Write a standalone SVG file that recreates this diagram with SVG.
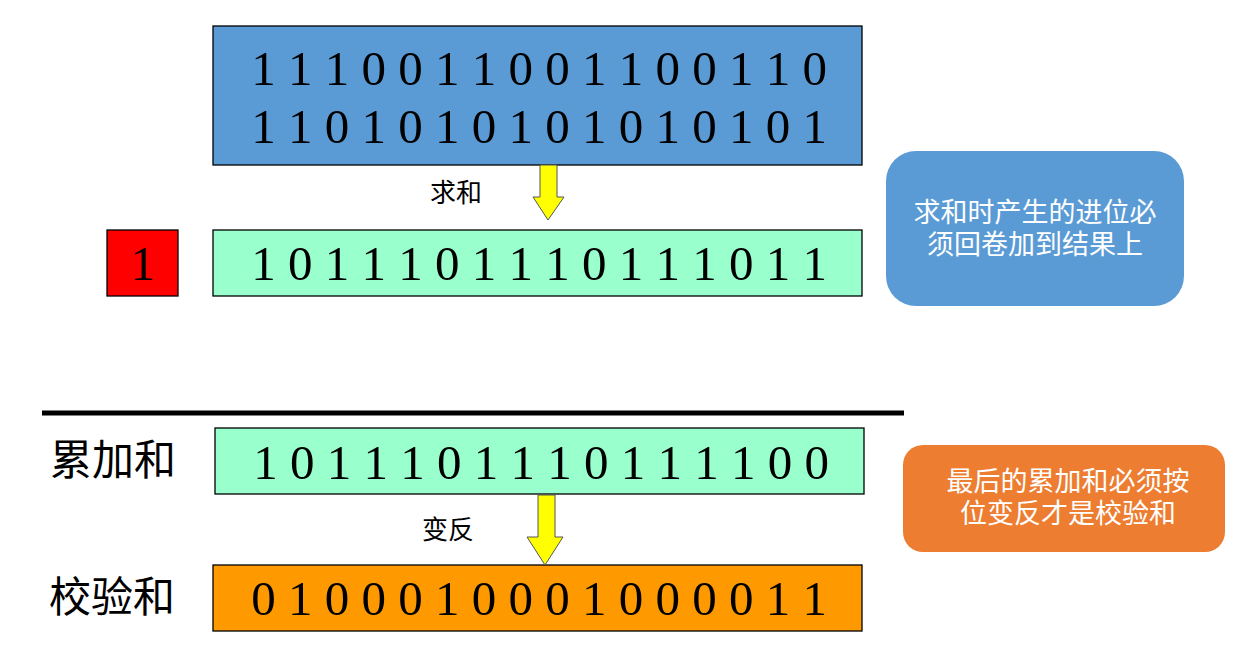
<svg xmlns="http://www.w3.org/2000/svg" width="1252" height="655" viewBox="0 0 1252 655">
<style>
.box{stroke:#000;stroke-width:1.3}
.bits{font-family:"Liberation Serif","Times New Roman",serif;font-size:49px;fill:#000;text-anchor:middle}
.lbl{font-family:"Liberation Serif","Noto Sans CJK SC",serif;fill:#000;text-anchor:middle}
.note{font-family:"Noto Sans CJK SC",sans-serif;font-size:27px;fill:#fff;text-anchor:middle}
.arrow{fill:#FFFF00;stroke:#555;stroke-width:1}
</style>
<rect width="1252" height="655" fill="#fff"/>
<g id="input">
<rect class="box" x="213" y="26" width="649" height="139" fill="#5B9BD5"/>
<text class="bits" x="539" y="85">1 1 1 0 0 1 1 0 0 1 1 0 0 1 1 0</text>
<text class="bits" x="539" y="143">1 1 0 1 0 1 0 1 0 1 0 1 0 1 0 1</text>
</g>
<g id="carry">
<rect class="box" x="107" y="230" width="71" height="66" fill="#FF0000"/>
<text class="bits" x="143" y="280">1</text>
</g>
<g id="sum">
<rect class="box" x="213" y="230" width="649" height="66" fill="#99FFCC"/>
<text class="bits" x="539" y="280">1 0 1 1 1 0 1 1 1 0 1 1 1 0 1 1</text>
</g>
<g id="note1">
<rect x="886" y="151" width="298" height="155" rx="30" fill="#5B9BD5"/>
<text class="note" x="1035" y="222">求和时产生的进位必</text>
<text class="note" x="1035" y="254">须回卷加到结果上</text>
</g>
<g id="divider">
<line x1="42" y1="413" x2="904" y2="413" stroke="#000" stroke-width="5"/>
</g>
<g id="accum">
<text class="lbl" x="113" y="475" font-size="42">累加和</text>
<rect class="box" x="215" y="428" width="649" height="66" fill="#99FFCC"/>
<text class="bits" x="541" y="479">1 0 1 1 1 0 1 1 1 0 1 1 1 1 0 0</text>
</g>
<g id="checksum">
<text class="lbl" x="112" y="612" font-size="42">校验和</text>
<rect class="box" x="213" y="565" width="649" height="66" fill="#FF9900"/>
<text class="bits" x="539" y="615">0 1 0 0 0 1 0 0 0 1 0 0 0 0 1 1</text>
</g>
<g id="note2">
<rect x="903" y="445" width="322" height="107" rx="20" fill="#ED7D31"/>
<text class="note" x="1068" y="491">最后的累加和必须按</text>
<text class="note" x="1068" y="523">位变反才是校验和</text>
</g>
<g id="connectors">
<polygon class="arrow" points="540,165 557,165 557,197 564,197 548,220 533,197 540,197"/>
<text class="lbl" x="456" y="202" font-size="26">求和</text>
<polygon class="arrow" points="538,495 555,495 555,537 563,537 545,565 527,537 538,537"/>
<text class="lbl" x="448" y="539" font-size="26">变反</text>
</g>
</svg>
